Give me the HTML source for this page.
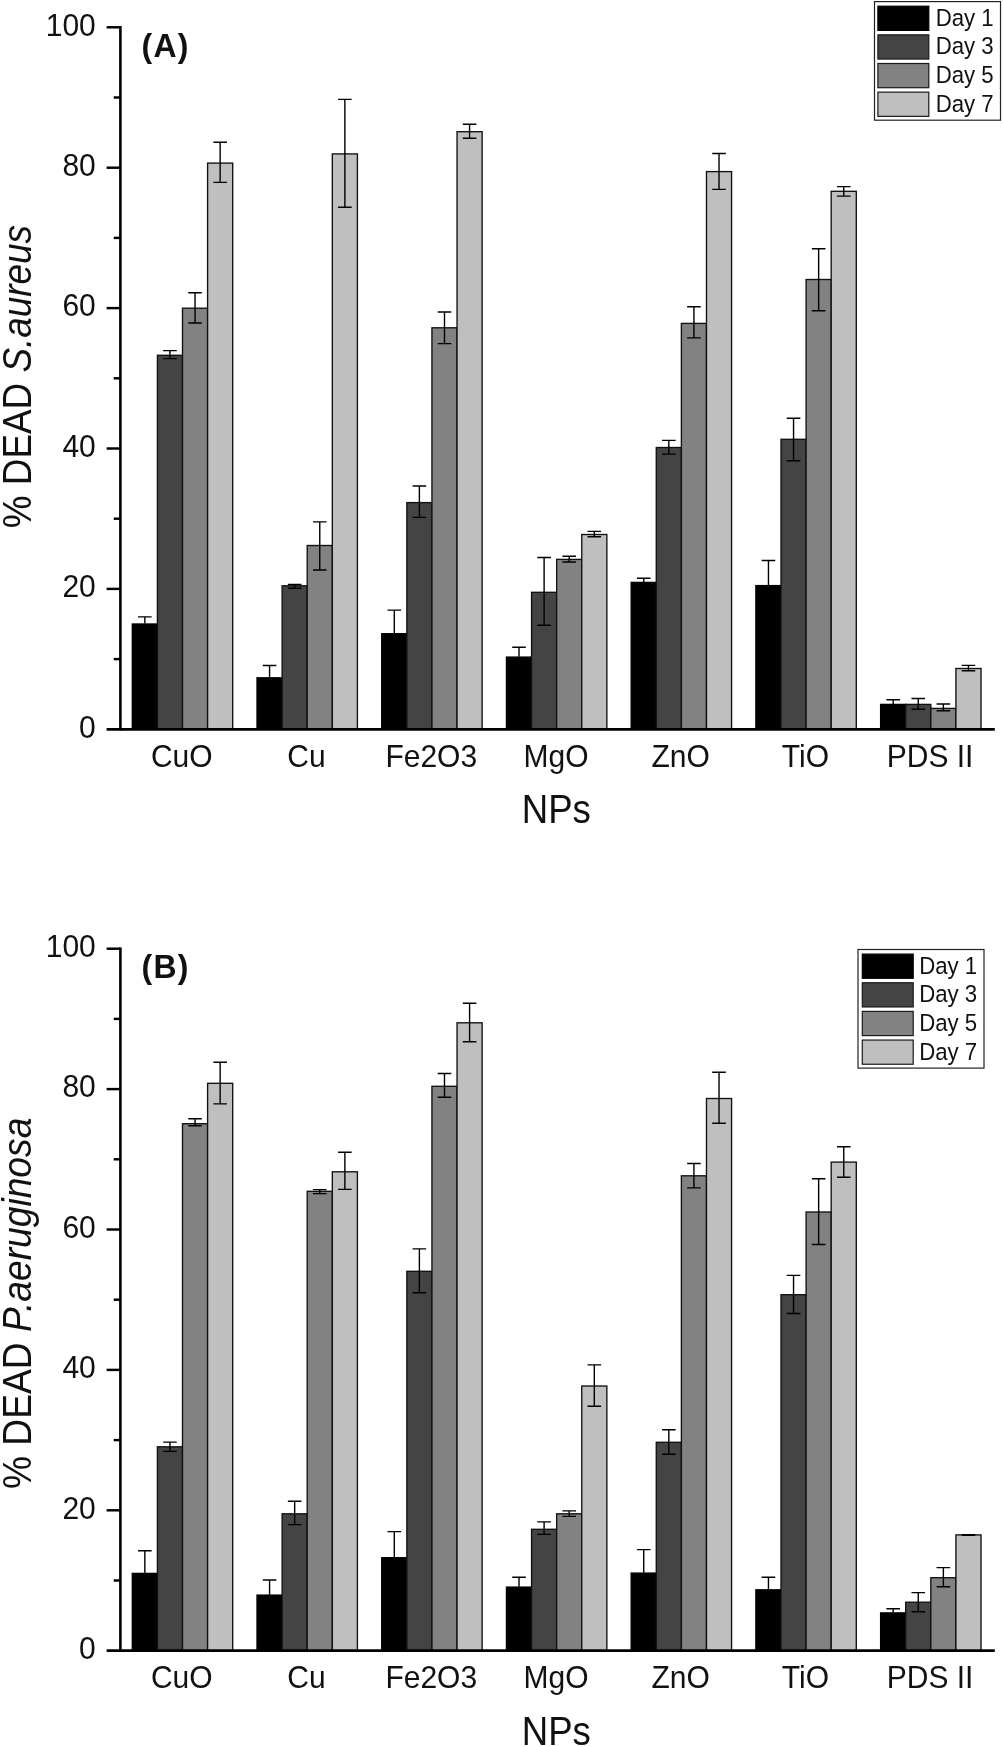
<!DOCTYPE html>
<html>
<head>
<meta charset="utf-8">
<title>NP antibacterial activity</title>
<style>
html,body{margin:0;padding:0;background:#fff;}
body{width:1003px;height:1747px;overflow:hidden;}
svg{display:block;position:absolute;left:0;top:0;will-change:transform;}
svg text{font-family:"Liberation Sans",sans-serif;fill:#111;}
</style>
</head>
<body>
<svg width="1003" height="1747" viewBox="0 0 1003 1747">
<rect width="1003" height="1747" fill="#fff"/>
<g id="chartA">
<rect x="132.3" y="624" width="25.1" height="105.3" fill="#000000" stroke="#000" stroke-width="1.35"/>
<rect x="157.4" y="355.3" width="25.1" height="374" fill="#444444" stroke="#111111" stroke-width="1.35"/>
<rect x="182.5" y="308.2" width="25.1" height="421.1" fill="#828282" stroke="#111111" stroke-width="1.35"/>
<rect x="207.6" y="163.1" width="25.1" height="566.2" fill="#bfbfbf" stroke="#111111" stroke-width="1.35"/>
<rect x="257.02" y="677.8" width="25.1" height="51.5" fill="#000000" stroke="#000" stroke-width="1.35"/>
<rect x="282.12" y="585.8" width="25.1" height="143.5" fill="#444444" stroke="#111111" stroke-width="1.35"/>
<rect x="307.22" y="545.5" width="25.1" height="183.8" fill="#828282" stroke="#111111" stroke-width="1.35"/>
<rect x="332.32" y="153.9" width="25.1" height="575.4" fill="#bfbfbf" stroke="#111111" stroke-width="1.35"/>
<rect x="381.74" y="633.7" width="25.1" height="95.6" fill="#000000" stroke="#000" stroke-width="1.35"/>
<rect x="406.84" y="502.6" width="25.1" height="226.7" fill="#444444" stroke="#111111" stroke-width="1.35"/>
<rect x="431.94" y="327.8" width="25.1" height="401.5" fill="#828282" stroke="#111111" stroke-width="1.35"/>
<rect x="457.04" y="131.7" width="25.1" height="597.6" fill="#bfbfbf" stroke="#111111" stroke-width="1.35"/>
<rect x="506.46" y="657.1" width="25.1" height="72.2" fill="#000000" stroke="#000" stroke-width="1.35"/>
<rect x="531.56" y="592.3" width="25.1" height="137" fill="#444444" stroke="#111111" stroke-width="1.35"/>
<rect x="556.66" y="559.4" width="25.1" height="169.9" fill="#828282" stroke="#111111" stroke-width="1.35"/>
<rect x="581.76" y="534.5" width="25.1" height="194.8" fill="#bfbfbf" stroke="#111111" stroke-width="1.35"/>
<rect x="631.18" y="582.4" width="25.1" height="146.9" fill="#000000" stroke="#000" stroke-width="1.35"/>
<rect x="656.28" y="447.5" width="25.1" height="281.8" fill="#444444" stroke="#111111" stroke-width="1.35"/>
<rect x="681.38" y="323.4" width="25.1" height="405.9" fill="#828282" stroke="#111111" stroke-width="1.35"/>
<rect x="706.48" y="171.6" width="25.1" height="557.7" fill="#bfbfbf" stroke="#111111" stroke-width="1.35"/>
<rect x="755.9" y="585.6" width="25.1" height="143.7" fill="#000000" stroke="#000" stroke-width="1.35"/>
<rect x="781" y="439.3" width="25.1" height="290" fill="#444444" stroke="#111111" stroke-width="1.35"/>
<rect x="806.1" y="279.5" width="25.1" height="449.8" fill="#828282" stroke="#111111" stroke-width="1.35"/>
<rect x="831.2" y="191.3" width="25.1" height="538" fill="#bfbfbf" stroke="#111111" stroke-width="1.35"/>
<rect x="880.62" y="704.4" width="25.1" height="24.9" fill="#000000" stroke="#000" stroke-width="1.35"/>
<rect x="905.72" y="704.4" width="25.1" height="24.9" fill="#444444" stroke="#111111" stroke-width="1.35"/>
<rect x="930.82" y="708.4" width="25.1" height="20.9" fill="#828282" stroke="#111111" stroke-width="1.35"/>
<rect x="955.92" y="668.5" width="25.1" height="60.8" fill="#bfbfbf" stroke="#111111" stroke-width="1.35"/>
<path d="M144.85 616.9V623.6M138.05 616.9H151.65" stroke="#000" stroke-width="1.4" fill="none"/>
<path d="M169.95 350.6V358.6M163.15 350.6H176.75M163.15 358.6H176.75" stroke="#000" stroke-width="1.4" fill="none"/>
<path d="M195.05 292.8V323M188.25 292.8H201.85M188.25 323H201.85" stroke="#000" stroke-width="1.4" fill="none"/>
<path d="M220.15 142.3V182.4M213.35 142.3H226.95M213.35 182.4H226.95" stroke="#000" stroke-width="1.4" fill="none"/>
<path d="M269.57 665.5V677.4M262.77 665.5H276.37" stroke="#000" stroke-width="1.4" fill="none"/>
<path d="M294.67 584.5V588.2M287.87 584.5H301.47M287.87 588.2H301.47" stroke="#000" stroke-width="1.4" fill="none"/>
<path d="M319.77 521.9V570M312.97 521.9H326.57M312.97 570H326.57" stroke="#000" stroke-width="1.4" fill="none"/>
<path d="M344.87 99.4V207.3M338.07 99.4H351.67M338.07 207.3H351.67" stroke="#000" stroke-width="1.4" fill="none"/>
<path d="M394.29 610.1V633.3M387.49 610.1H401.09" stroke="#000" stroke-width="1.4" fill="none"/>
<path d="M419.39 486V517.4M412.59 486H426.19M412.59 517.4H426.19" stroke="#000" stroke-width="1.4" fill="none"/>
<path d="M444.49 312V343.6M437.69 312H451.29M437.69 343.6H451.29" stroke="#000" stroke-width="1.4" fill="none"/>
<path d="M469.59 124.3V138.3M462.79 124.3H476.39M462.79 138.3H476.39" stroke="#000" stroke-width="1.4" fill="none"/>
<path d="M519.01 647.3V656.7M512.21 647.3H525.81" stroke="#000" stroke-width="1.4" fill="none"/>
<path d="M544.11 557.5V625.3M537.31 557.5H550.91M537.31 625.3H550.91" stroke="#000" stroke-width="1.4" fill="none"/>
<path d="M569.21 556.3V562M562.41 556.3H576.01M562.41 562H576.01" stroke="#000" stroke-width="1.4" fill="none"/>
<path d="M594.31 531.4V536.8M587.51 531.4H601.11M587.51 536.8H601.11" stroke="#000" stroke-width="1.4" fill="none"/>
<path d="M643.73 578.2V582M636.93 578.2H650.53" stroke="#000" stroke-width="1.4" fill="none"/>
<path d="M668.83 440.4V454.1M662.03 440.4H675.63M662.03 454.1H675.63" stroke="#000" stroke-width="1.4" fill="none"/>
<path d="M693.93 306.8V337.9M687.13 306.8H700.73M687.13 337.9H700.73" stroke="#000" stroke-width="1.4" fill="none"/>
<path d="M719.03 153.5V189.4M712.23 153.5H725.83M712.23 189.4H725.83" stroke="#000" stroke-width="1.4" fill="none"/>
<path d="M768.45 560.5V585.2M761.65 560.5H775.25" stroke="#000" stroke-width="1.4" fill="none"/>
<path d="M793.55 418.2V460.8M786.75 418.2H800.35M786.75 460.8H800.35" stroke="#000" stroke-width="1.4" fill="none"/>
<path d="M818.65 248.7V310.7M811.85 248.7H825.45M811.85 310.7H825.45" stroke="#000" stroke-width="1.4" fill="none"/>
<path d="M843.75 186.6V196.1M836.95 186.6H850.55M836.95 196.1H850.55" stroke="#000" stroke-width="1.4" fill="none"/>
<path d="M893.17 699.8V704M886.37 699.8H899.97" stroke="#000" stroke-width="1.4" fill="none"/>
<path d="M918.27 698.5V709.2M911.47 698.5H925.07M911.47 709.2H925.07" stroke="#000" stroke-width="1.4" fill="none"/>
<path d="M943.37 704V710.7M936.57 704H950.17M936.57 710.7H950.17" stroke="#000" stroke-width="1.4" fill="none"/>
<path d="M968.47 665.4V670.8M961.67 665.4H975.27M961.67 670.8H975.27" stroke="#000" stroke-width="1.4" fill="none"/>
<path d="M120.4 26V730.6" stroke="#000" stroke-width="2.6" fill="none"/>
<path d="M106.6 729.3H994.8" stroke="#000" stroke-width="2.7" fill="none"/>
<path d="M113.7 659.1H120.4" stroke="#000" stroke-width="2.45" fill="none"/>
<path d="M106.6 588.9H120.4" stroke="#000" stroke-width="2.45" fill="none"/>
<path d="M113.7 518.7H120.4" stroke="#000" stroke-width="2.45" fill="none"/>
<path d="M106.6 448.5H120.4" stroke="#000" stroke-width="2.45" fill="none"/>
<path d="M113.7 378.3H120.4" stroke="#000" stroke-width="2.45" fill="none"/>
<path d="M106.6 308.1H120.4" stroke="#000" stroke-width="2.45" fill="none"/>
<path d="M113.7 237.9H120.4" stroke="#000" stroke-width="2.45" fill="none"/>
<path d="M106.6 167.7H120.4" stroke="#000" stroke-width="2.45" fill="none"/>
<path d="M113.7 97.5H120.4" stroke="#000" stroke-width="2.45" fill="none"/>
<path d="M106.6 27.3H120.4" stroke="#000" stroke-width="2.45" fill="none"/>
<text transform="translate(95.8 737.5) scale(1 1.06)" font-size="30" text-anchor="end">0</text>
<text transform="translate(95.8 597.1) scale(1 1.06)" font-size="30" text-anchor="end">20</text>
<text transform="translate(95.8 456.7) scale(1 1.06)" font-size="30" text-anchor="end">40</text>
<text transform="translate(95.8 316.3) scale(1 1.06)" font-size="30" text-anchor="end">60</text>
<text transform="translate(95.8 175.9) scale(1 1.06)" font-size="30" text-anchor="end">80</text>
<text transform="translate(95.8 35.5) scale(1 1.06)" font-size="30" text-anchor="end">100</text>
<text transform="translate(181.8 766.5) scale(1 1.06)" font-size="30" text-anchor="middle">CuO</text>
<text transform="translate(306.52 766.5) scale(1 1.06)" font-size="30" text-anchor="middle">Cu</text>
<text transform="translate(431.24 766.5) scale(1 1.06)" font-size="30" text-anchor="middle">Fe2O3</text>
<text transform="translate(555.96 766.5) scale(1 1.06)" font-size="30" text-anchor="middle">MgO</text>
<text transform="translate(680.68 766.5) scale(1 1.06)" font-size="30" text-anchor="middle">ZnO</text>
<text transform="translate(805.4 766.5) scale(1 1.06)" font-size="30" text-anchor="middle">TiO</text>
<text transform="translate(930.12 766.5) scale(1 1.06)" font-size="30" text-anchor="middle">PDS II</text>
<text transform="translate(556.3 823.3) scale(1 1.09)" font-size="36.6" text-anchor="middle">NPs</text>
<text transform="translate(30.9 376.6) rotate(-90) scale(1 1.1)" font-size="36.9" text-anchor="middle">% DEAD <tspan font-style="italic">S.aureus</tspan></text>
<text transform="translate(141.5 57.1) scale(1 1.045)" font-size="32" font-weight="bold" letter-spacing="1.3">(A)</text>
<rect x="874.5" y="1.6" width="126" height="118.6" fill="#fff" stroke="#222" stroke-width="1.2"/>
<rect x="877.9" y="6.2" width="50.9" height="24.2" fill="#000000" stroke="#000" stroke-width="1.2"/>
<text transform="translate(935.7 25.8) scale(1 1.07)" font-size="22.2">Day 1</text>
<rect x="877.9" y="34.85" width="50.9" height="24.2" fill="#444444" stroke="#1a1a1a" stroke-width="1.2"/>
<text transform="translate(935.7 54.45) scale(1 1.07)" font-size="22.2">Day 3</text>
<rect x="877.9" y="63.5" width="50.9" height="24.2" fill="#828282" stroke="#1a1a1a" stroke-width="1.2"/>
<text transform="translate(935.7 83.1) scale(1 1.07)" font-size="22.2">Day 5</text>
<rect x="877.9" y="92.15" width="50.9" height="24.2" fill="#bfbfbf" stroke="#1a1a1a" stroke-width="1.2"/>
<text transform="translate(935.7 111.75) scale(1 1.07)" font-size="22.2">Day 7</text>
</g>
<g id="chartB">
<rect x="132.3" y="1573.4" width="25.1" height="77.3" fill="#000000" stroke="#000" stroke-width="1.35"/>
<rect x="157.4" y="1446.8" width="25.1" height="203.9" fill="#444444" stroke="#111111" stroke-width="1.35"/>
<rect x="182.5" y="1123.7" width="25.1" height="527" fill="#828282" stroke="#111111" stroke-width="1.35"/>
<rect x="207.6" y="1083.3" width="25.1" height="567.4" fill="#bfbfbf" stroke="#111111" stroke-width="1.35"/>
<rect x="257.02" y="1595.1" width="25.1" height="55.6" fill="#000000" stroke="#000" stroke-width="1.35"/>
<rect x="282.12" y="1513.8" width="25.1" height="136.9" fill="#444444" stroke="#111111" stroke-width="1.35"/>
<rect x="307.22" y="1191.3" width="25.1" height="459.4" fill="#828282" stroke="#111111" stroke-width="1.35"/>
<rect x="332.32" y="1171.8" width="25.1" height="478.9" fill="#bfbfbf" stroke="#111111" stroke-width="1.35"/>
<rect x="381.74" y="1557.7" width="25.1" height="93" fill="#000000" stroke="#000" stroke-width="1.35"/>
<rect x="406.84" y="1271.3" width="25.1" height="379.4" fill="#444444" stroke="#111111" stroke-width="1.35"/>
<rect x="431.94" y="1086.3" width="25.1" height="564.4" fill="#828282" stroke="#111111" stroke-width="1.35"/>
<rect x="457.04" y="1022.8" width="25.1" height="627.9" fill="#bfbfbf" stroke="#111111" stroke-width="1.35"/>
<rect x="506.46" y="1587.1" width="25.1" height="63.6" fill="#000000" stroke="#000" stroke-width="1.35"/>
<rect x="531.56" y="1529.3" width="25.1" height="121.4" fill="#444444" stroke="#111111" stroke-width="1.35"/>
<rect x="556.66" y="1513.8" width="25.1" height="136.9" fill="#828282" stroke="#111111" stroke-width="1.35"/>
<rect x="581.76" y="1386" width="25.1" height="264.7" fill="#bfbfbf" stroke="#111111" stroke-width="1.35"/>
<rect x="631.18" y="1573.1" width="25.1" height="77.6" fill="#000000" stroke="#000" stroke-width="1.35"/>
<rect x="656.28" y="1442.3" width="25.1" height="208.4" fill="#444444" stroke="#111111" stroke-width="1.35"/>
<rect x="681.38" y="1175.8" width="25.1" height="474.9" fill="#828282" stroke="#111111" stroke-width="1.35"/>
<rect x="706.48" y="1098.5" width="25.1" height="552.2" fill="#bfbfbf" stroke="#111111" stroke-width="1.35"/>
<rect x="755.9" y="1589.8" width="25.1" height="60.9" fill="#000000" stroke="#000" stroke-width="1.35"/>
<rect x="781" y="1294.7" width="25.1" height="356" fill="#444444" stroke="#111111" stroke-width="1.35"/>
<rect x="806.1" y="1212" width="25.1" height="438.7" fill="#828282" stroke="#111111" stroke-width="1.35"/>
<rect x="831.2" y="1162.1" width="25.1" height="488.6" fill="#bfbfbf" stroke="#111111" stroke-width="1.35"/>
<rect x="880.62" y="1612.9" width="25.1" height="37.8" fill="#000000" stroke="#000" stroke-width="1.35"/>
<rect x="905.72" y="1602.2" width="25.1" height="48.5" fill="#444444" stroke="#111111" stroke-width="1.35"/>
<rect x="930.82" y="1577.7" width="25.1" height="73" fill="#828282" stroke="#111111" stroke-width="1.35"/>
<rect x="955.92" y="1534.9" width="25.1" height="115.8" fill="#bfbfbf" stroke="#111111" stroke-width="1.35"/>
<path d="M144.85 1550.8V1573M138.05 1550.8H151.65" stroke="#000" stroke-width="1.4" fill="none"/>
<path d="M169.95 1442.1V1451.4M163.15 1442.1H176.75M163.15 1451.4H176.75" stroke="#000" stroke-width="1.4" fill="none"/>
<path d="M195.05 1118.8V1125.8M188.25 1118.8H201.85M188.25 1125.8H201.85" stroke="#000" stroke-width="1.4" fill="none"/>
<path d="M220.15 1062.3V1103.9M213.35 1062.3H226.95M213.35 1103.9H226.95" stroke="#000" stroke-width="1.4" fill="none"/>
<path d="M269.57 1580V1594.7M262.77 1580H276.37" stroke="#000" stroke-width="1.4" fill="none"/>
<path d="M294.67 1501.2V1524.6M287.87 1501.2H301.47M287.87 1524.6H301.47" stroke="#000" stroke-width="1.4" fill="none"/>
<path d="M319.77 1189.6V1193.6M312.97 1189.6H326.57M312.97 1193.6H326.57" stroke="#000" stroke-width="1.4" fill="none"/>
<path d="M344.87 1152.2V1189.4M338.07 1152.2H351.67M338.07 1189.4H351.67" stroke="#000" stroke-width="1.4" fill="none"/>
<path d="M394.29 1531.6V1557.3M387.49 1531.6H401.09" stroke="#000" stroke-width="1.4" fill="none"/>
<path d="M419.39 1248.9V1292.8M412.59 1248.9H426.19M412.59 1292.8H426.19" stroke="#000" stroke-width="1.4" fill="none"/>
<path d="M444.49 1073.5V1097.2M437.69 1073.5H451.29M437.69 1097.2H451.29" stroke="#000" stroke-width="1.4" fill="none"/>
<path d="M469.59 1003.2V1041.8M462.79 1003.2H476.39M462.79 1041.8H476.39" stroke="#000" stroke-width="1.4" fill="none"/>
<path d="M519.01 1577.2V1586.7M512.21 1577.2H525.81" stroke="#000" stroke-width="1.4" fill="none"/>
<path d="M544.11 1521.9V1534.4M537.31 1521.9H550.91M537.31 1534.4H550.91" stroke="#000" stroke-width="1.4" fill="none"/>
<path d="M569.21 1510.9V1516.4M562.41 1510.9H576.01M562.41 1516.4H576.01" stroke="#000" stroke-width="1.4" fill="none"/>
<path d="M594.31 1364.9V1406.2M587.51 1364.9H601.11M587.51 1406.2H601.11" stroke="#000" stroke-width="1.4" fill="none"/>
<path d="M643.73 1549.6V1572.7M636.93 1549.6H650.53" stroke="#000" stroke-width="1.4" fill="none"/>
<path d="M668.83 1429.7V1454.3M662.03 1429.7H675.63M662.03 1454.3H675.63" stroke="#000" stroke-width="1.4" fill="none"/>
<path d="M693.93 1163.5V1187.9M687.13 1163.5H700.73M687.13 1187.9H700.73" stroke="#000" stroke-width="1.4" fill="none"/>
<path d="M719.03 1072.2V1123.3M712.23 1072.2H725.83M712.23 1123.3H725.83" stroke="#000" stroke-width="1.4" fill="none"/>
<path d="M768.45 1577.2V1589.4M761.65 1577.2H775.25" stroke="#000" stroke-width="1.4" fill="none"/>
<path d="M793.55 1275.4V1313.5M786.75 1275.4H800.35M786.75 1313.5H800.35" stroke="#000" stroke-width="1.4" fill="none"/>
<path d="M818.65 1178.7V1244.5M811.85 1178.7H825.45M811.85 1244.5H825.45" stroke="#000" stroke-width="1.4" fill="none"/>
<path d="M843.75 1146.8V1177.2M836.95 1146.8H850.55M836.95 1177.2H850.55" stroke="#000" stroke-width="1.4" fill="none"/>
<path d="M893.17 1608.8V1612.5M886.37 1608.8H899.97" stroke="#000" stroke-width="1.4" fill="none"/>
<path d="M918.27 1592.6V1611.7M911.47 1592.6H925.07M911.47 1611.7H925.07" stroke="#000" stroke-width="1.4" fill="none"/>
<path d="M943.37 1567.6V1586.8M936.57 1567.6H950.17M936.57 1586.8H950.17" stroke="#000" stroke-width="1.4" fill="none"/>
<path d="M968.47 1534.6V1535.2M961.67 1534.6H975.27M961.67 1535.2H975.27" stroke="#000" stroke-width="1.4" fill="none"/>
<path d="M120.4 947.4V1652" stroke="#000" stroke-width="2.6" fill="none"/>
<path d="M106.6 1650.7H994.8" stroke="#000" stroke-width="2.7" fill="none"/>
<path d="M113.7 1580.5H120.4" stroke="#000" stroke-width="2.45" fill="none"/>
<path d="M106.6 1510.3H120.4" stroke="#000" stroke-width="2.45" fill="none"/>
<path d="M113.7 1440.1H120.4" stroke="#000" stroke-width="2.45" fill="none"/>
<path d="M106.6 1369.9H120.4" stroke="#000" stroke-width="2.45" fill="none"/>
<path d="M113.7 1299.7H120.4" stroke="#000" stroke-width="2.45" fill="none"/>
<path d="M106.6 1229.5H120.4" stroke="#000" stroke-width="2.45" fill="none"/>
<path d="M113.7 1159.3H120.4" stroke="#000" stroke-width="2.45" fill="none"/>
<path d="M106.6 1089.1H120.4" stroke="#000" stroke-width="2.45" fill="none"/>
<path d="M113.7 1018.9H120.4" stroke="#000" stroke-width="2.45" fill="none"/>
<path d="M106.6 948.7H120.4" stroke="#000" stroke-width="2.45" fill="none"/>
<text transform="translate(95.8 1658.9) scale(1 1.06)" font-size="30" text-anchor="end">0</text>
<text transform="translate(95.8 1518.5) scale(1 1.06)" font-size="30" text-anchor="end">20</text>
<text transform="translate(95.8 1378.1) scale(1 1.06)" font-size="30" text-anchor="end">40</text>
<text transform="translate(95.8 1237.7) scale(1 1.06)" font-size="30" text-anchor="end">60</text>
<text transform="translate(95.8 1097.3) scale(1 1.06)" font-size="30" text-anchor="end">80</text>
<text transform="translate(95.8 956.9) scale(1 1.06)" font-size="30" text-anchor="end">100</text>
<text transform="translate(181.8 1687.9) scale(1 1.06)" font-size="30" text-anchor="middle">CuO</text>
<text transform="translate(306.52 1687.9) scale(1 1.06)" font-size="30" text-anchor="middle">Cu</text>
<text transform="translate(431.24 1687.9) scale(1 1.06)" font-size="30" text-anchor="middle">Fe2O3</text>
<text transform="translate(555.96 1687.9) scale(1 1.06)" font-size="30" text-anchor="middle">MgO</text>
<text transform="translate(680.68 1687.9) scale(1 1.06)" font-size="30" text-anchor="middle">ZnO</text>
<text transform="translate(805.4 1687.9) scale(1 1.06)" font-size="30" text-anchor="middle">TiO</text>
<text transform="translate(930.12 1687.9) scale(1 1.06)" font-size="30" text-anchor="middle">PDS II</text>
<text transform="translate(556.3 1744.7) scale(1 1.09)" font-size="36.6" text-anchor="middle">NPs</text>
<text transform="translate(30.9 1303.4) rotate(-90) scale(1 1.1)" font-size="37.2" text-anchor="middle">% DEAD <tspan font-style="italic">P.aeruginosa</tspan></text>
<text transform="translate(141.5 977.6) scale(1 1.045)" font-size="32" font-weight="bold" letter-spacing="1.3">(B)</text>
<rect x="858" y="949.5" width="126" height="118.6" fill="#fff" stroke="#222" stroke-width="1.2"/>
<rect x="862.3" y="954.1" width="50.9" height="24.2" fill="#000000" stroke="#000" stroke-width="1.2"/>
<text transform="translate(919.2 973.7) scale(1 1.07)" font-size="22.2">Day 1</text>
<rect x="862.3" y="982.75" width="50.9" height="24.2" fill="#444444" stroke="#1a1a1a" stroke-width="1.2"/>
<text transform="translate(919.2 1002.35) scale(1 1.07)" font-size="22.2">Day 3</text>
<rect x="862.3" y="1011.4" width="50.9" height="24.2" fill="#828282" stroke="#1a1a1a" stroke-width="1.2"/>
<text transform="translate(919.2 1031) scale(1 1.07)" font-size="22.2">Day 5</text>
<rect x="862.3" y="1040.05" width="50.9" height="24.2" fill="#bfbfbf" stroke="#1a1a1a" stroke-width="1.2"/>
<text transform="translate(919.2 1059.65) scale(1 1.07)" font-size="22.2">Day 7</text>
</g>
</svg>
</body>
</html>
